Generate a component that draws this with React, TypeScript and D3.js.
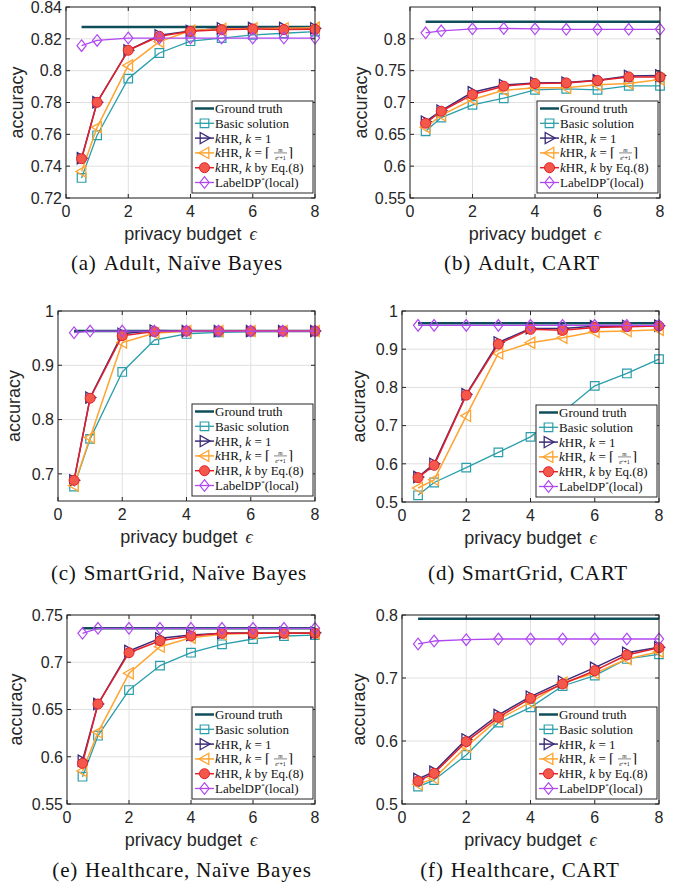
import React from 'react';
import * as d3 from 'd3';

// privacy budget values (x axis)
const epsilons = [0.5, 1, 2, 3, 4, 5, 6, 7, 8];
const xTicks = [0, 2, 4, 6, 8];

// (a) Adult, Naive Bayes
const adultNBTruth = 0.8274;
const adultNBBasic = [0.7326, 0.7594, 0.795, 0.8111, 0.8185, 0.8205, 0.8225, 0.8235, 0.8245];
const adultNBk1 = [0.745, 0.7802, 0.8128, 0.8222, 0.825, 0.8266, 0.8268, 0.8268, 0.8266];
const adultNBkCeil = [0.7367, 0.7644, 0.8033, 0.8182, 0.8252, 0.8262, 0.8265, 0.8266, 0.827];
const adultNBkEq8 = [0.7447, 0.7801, 0.8128, 0.8216, 0.8247, 0.8257, 0.8262, 0.8258, 0.826];
const adultNBLabelDP = [0.8157, 0.819, 0.8205, 0.8205, 0.8205, 0.8205, 0.8205, 0.8205, 0.8205];
const adultNBTicks = [0.72, 0.74, 0.76, 0.78, 0.8, 0.82, 0.84];

// (b) Adult, CART
const adultCartTruth = 0.8267;
const adultCartBasic = [0.6548, 0.6763, 0.6962, 0.7067, 0.7198, 0.7214, 0.7198, 0.7261, 0.7261];
const adultCartk1 = [0.67, 0.6873, 0.7161, 0.7274, 0.7308, 0.7313, 0.735, 0.7418, 0.7424];
const adultCartkCeil = [0.661, 0.68, 0.7046, 0.7193, 0.723, 0.723, 0.7277, 0.7298, 0.736];
const adultCartkEq8 = [0.6674, 0.6863, 0.7125, 0.7256, 0.7298, 0.7308, 0.7345, 0.7402, 0.7402];
const adultCartLabelDP = [0.8094, 0.8126, 0.8157, 0.8163, 0.8157, 0.815, 0.815, 0.815, 0.815];
const adultCartTicks = [0.55, 0.6, 0.65, 0.7, 0.75, 0.8];

// (c) SmartGrid, Naive Bayes
const gridNBTruth = 0.9632;
const gridNBBasic = [0.6767, 0.7644, 0.8877, 0.9466, 0.9577, 0.9607, 0.962, 0.9626, 0.9626];
const gridNBk1 = [0.688, 0.8405, 0.958, 0.964, 0.963, 0.963, 0.963, 0.963, 0.963];
const gridNBkCeil = [0.6785, 0.767, 0.942, 0.959, 0.963, 0.963, 0.963, 0.963, 0.963];
const gridNBkEq8 = [0.688, 0.8393, 0.9546, 0.962, 0.963, 0.963, 0.963, 0.963, 0.963];
const gridNBLabelDP = [0.96, 0.963, 0.963, 0.963, 0.963, 0.963, 0.963, 0.963, 0.963];
const gridNBTicks = [0.7, 0.8, 0.9, 1];

// (d) SmartGrid, CART
const gridCartTruth = 0.9677;
const gridCartBasic = [0.5175, 0.551, 0.59, 0.63, 0.6705, 0.735, 0.804, 0.8365, 0.874];
const gridCartk1 = [0.5655, 0.6, 0.782, 0.9178, 0.9545, 0.9545, 0.96, 0.961, 0.9615];
const gridCartkCeil = [0.5367, 0.558, 0.7255, 0.889, 0.917, 0.93, 0.9458, 0.9475, 0.951];
const gridCartkEq8 = [0.5638, 0.596, 0.7797, 0.9135, 0.952, 0.9493, 0.957, 0.959, 0.9607];
const gridCartLabelDP = [0.9624, 0.9624, 0.9624, 0.9624, 0.9624, 0.9624, 0.9624, 0.9624, 0.9624];
const gridCartTicks = [0.5, 0.6, 0.7, 0.8, 0.9, 1];

// (e) Healthcare, Naive Bayes
const healthNBTruth = 0.7359;
const healthNBBasic = [0.5789, 0.6223, 0.6706, 0.6964, 0.7101, 0.719, 0.7246, 0.7278, 0.7288];
const healthNBk1 = [0.5958, 0.6558, 0.7119, 0.7253, 0.7288, 0.7306, 0.7313, 0.7313, 0.7313];
const healthNBkCeil = [0.585, 0.6258, 0.6883, 0.7165, 0.726, 0.7295, 0.7306, 0.7306, 0.7306];
const healthNBkEq8 = [0.593, 0.6558, 0.7101, 0.7228, 0.7278, 0.7306, 0.7306, 0.7306, 0.7306];
const healthNBLabelDP = [0.7306, 0.7359, 0.7359, 0.7359, 0.7359, 0.7359, 0.7359, 0.7359, 0.7359];
const healthNBTicks = [0.55, 0.6, 0.65, 0.7, 0.75];

// (f) Healthcare, CART
const healthCartTruth = 0.7942;
const healthCartBasic = [0.5275, 0.538, 0.5778, 0.6291, 0.6534, 0.6873, 0.7037, 0.7302, 0.7376];
const healthCartk1 = [0.5397, 0.5513, 0.6026, 0.6413, 0.6704, 0.6942, 0.7164, 0.7402, 0.7487];
const healthCartkCeil = [0.5312, 0.5407, 0.591, 0.6344, 0.6614, 0.6926, 0.7074, 0.7302, 0.7418];
const healthCartkEq8 = [0.5365, 0.5487, 0.5989, 0.6376, 0.6677, 0.6905, 0.7116, 0.7365, 0.7481];
const healthCartLabelDP = [0.754, 0.7587, 0.7608, 0.7619, 0.7619, 0.7619, 0.7619, 0.7619, 0.7619];
const healthCartTicks = [0.5, 0.6, 0.7, 0.8];

const C = {
  truth: '#0e4d5a',
  basic: '#2a9eab',
  k1: '#3b2b78',
  kCeil: '#ffa431',
  kEq8: '#e3202b',
  kEq8Fill: '#f4584a',
  labelDP: '#b048f0',
  axis: '#262626',
  grid: '#e0e0e0',
};

const SANS = "'Liberation Sans', Arial, Helvetica, sans-serif";
const SERIF = "'Liberation Serif', 'DejaVu Serif', serif";

const panels = [
  { id: 'a', tag: '(a)', title: 'Adult, Na\u00efve Bayes', left: 66, right: 315, top: 7, bottom: 198, yDomain: [0.72, 0.84], yTicks: adultNBTicks, yLabelX: 23, capX: 177, capY: 270,
    truth: adultNBTruth, basic: adultNBBasic, k1: adultNBk1, kCeil: adultNBkCeil, kEq8: adultNBkEq8, labelDP: adultNBLabelDP },
  { id: 'b', tag: '(b)', title: 'Adult, CART', left: 410, right: 660, top: 7, bottom: 198, yDomain: [0.55, 0.85], yTicks: adultCartTicks, yLabelX: 367, capX: 522, capY: 270,
    truth: adultCartTruth, basic: adultCartBasic, k1: adultCartk1, kCeil: adultCartkCeil, kEq8: adultCartkEq8, labelDP: adultCartLabelDP },
  { id: 'c', tag: '(c)', title: 'SmartGrid, Na\u00efve Bayes', left: 58, right: 315, top: 311, bottom: 501, yDomain: [0.65, 1], yTicks: gridNBTicks, yLabelX: 20, capX: 179, capY: 580,
    truth: gridNBTruth, basic: gridNBBasic, k1: gridNBk1, kCeil: gridNBkCeil, kEq8: gridNBkEq8, labelDP: gridNBLabelDP },
  { id: 'd', tag: '(d)', title: 'SmartGrid, CART', left: 402, right: 659, top: 311, bottom: 502, yDomain: [0.5, 1], yTicks: gridCartTicks, yLabelX: 365, capX: 528, capY: 580,
    truth: gridCartTruth, basic: gridCartBasic, k1: gridCartk1, kCeil: gridCartkCeil, kEq8: gridCartkEq8, labelDP: gridCartLabelDP },
  { id: 'e', tag: '(e)', title: 'Healthcare, Na\u00efve Bayes', left: 67, right: 315, top: 615, bottom: 804, yDomain: [0.55, 0.75], yTicks: healthNBTicks, yLabelX: 22, capX: 182, capY: 877,
    truth: healthNBTruth, basic: healthNBBasic, k1: healthNBk1, kCeil: healthNBkCeil, kEq8: healthNBkEq8, labelDP: healthNBLabelDP },
  { id: 'f', tag: '(f)', title: 'Healthcare, CART', left: 402, right: 659, top: 615, bottom: 804, yDomain: [0.5, 0.8], yTicks: healthCartTicks, yLabelX: 365, capX: 520, capY: 877,
    truth: healthCartTruth, basic: healthCartBasic, k1: healthCartk1, kCeil: healthCartkCeil, kEq8: healthCartkEq8, labelDP: healthCartLabelDP },
];

// marker shapes, centred on 0,0
const squarePath = 'M-4.3,-4.3h8.6v8.6h-8.6Z';
const triRightPath = 'M-4.3,-5.6L5.6,0L-4.3,5.6Z';
const triLeftPath = 'M4.3,-5.6L-5.6,0L4.3,5.6Z';
const diamondPath = 'M0,-5.8L4.6,0L0,5.8L-4.6,0Z';

function Marker({ kind, x, y }: { kind: string; x: number; y: number }) {
  const t = `translate(${x},${y})`;
  if (kind === 'basic') return <path d={squarePath} transform={t} fill="none" stroke={C.basic} strokeWidth={1.2} />;
  if (kind === 'k1') return <path d={triRightPath} transform={t} fill="none" stroke={C.k1} strokeWidth={1.3} />;
  if (kind === 'kCeil') return <path d={triLeftPath} transform={t} fill="none" stroke={C.kCeil} strokeWidth={1.3} />;
  if (kind === 'kEq8') return <circle cx={x} cy={y} r={5} fill={C.kEq8Fill} stroke={C.kEq8} strokeWidth={1} />;
  if (kind === 'labelDP') return <path d={diamondPath} transform={t} fill="none" stroke={C.labelDP} strokeWidth={1.2} />;
  return null;
}

const seriesStyle: Record<string, { color: string; width: number }> = {
  basic: { color: C.basic, width: 1.3 },
  k1: { color: C.k1, width: 1.5 },
  kCeil: { color: C.kCeil, width: 1.5 },
  kEq8: { color: C.kEq8, width: 1.5 },
  labelDP: { color: C.labelDP, width: 1.3 },
};
const seriesOrder = ['basic', 'k1', 'kCeil', 'kEq8', 'labelDP'];

function Legend({ right, bottom }: { right: number; bottom: number }) {
  const w = 121, h = 92;
  const lx = right - w, ly = bottom - h;
  const rowY = (i: number) => ly + 7.5 + i * 14.8;
  const tx = lx + 23;
  const kinds = ['truth', 'basic', 'k1', 'kCeil', 'kEq8', 'labelDP'];
  const fb = rowY(3); // centre of the fraction row
  const fx = tx + 59; // left of the fraction
  return (
    <g>
      <rect x={lx} y={ly} width={w} height={h} fill="#fff" stroke={C.axis} strokeWidth={1} />
      {kinds.map((k, i) => {
        const cy = rowY(i);
        const color = k === 'truth' ? C.truth : seriesStyle[k].color;
        const sw = k === 'truth' ? 2.5 : seriesStyle[k].width;
        return (
          <g key={k}>
            <line x1={lx + 3} x2={lx + 22} y1={cy} y2={cy} stroke={color} strokeWidth={sw} />
            <Marker kind={k} x={lx + 12.5} y={cy} />
          </g>
        );
      })}
      <g fontFamily={SERIF} fontSize={13} fill="#111">
        <text x={tx} y={rowY(0) + 4.5}>Ground truth</text>
        <text x={tx} y={rowY(1) + 4.5}>Basic solution</text>
        <text x={tx} y={rowY(2) + 4.5}>
          <tspan fontStyle="italic">k</tspan>HR, <tspan fontStyle="italic">k</tspan> = 1
        </text>
        <text x={tx} y={fb + 4.5}>
          <tspan fontStyle="italic">k</tspan>HR, <tspan fontStyle="italic">k</tspan> = {'\u2308'}
        </text>
        <text x={fx + 6.5} y={fb - 1.2} fontSize={6} fontStyle="italic" textAnchor="middle">m</text>
        <line x1={fx} x2={fx + 13} y1={fb} y2={fb} stroke="#111" strokeWidth={0.5} />
        <text x={fx + 6.5} y={fb + 7} fontSize={6} textAnchor="middle">
          <tspan fontStyle="italic">e</tspan><tspan fontSize={4} fontStyle="italic" dy={-2}>{'\u03f5'}</tspan><tspan dy={2}>+1</tspan>
        </text>
        <text x={fx + 14} y={fb + 4.5}>{'\u2309'}</text>
        <text x={tx} y={rowY(4) + 4.5}>
          <tspan fontStyle="italic">k</tspan>HR, <tspan fontStyle="italic">k</tspan> by Eq.(8)
        </text>
        <text x={tx} y={rowY(5) + 4.5}>
          LabelDP<tspan fontSize={7} dy={-5}>*</tspan><tspan dy={5}>(local)</tspan>
        </text>
      </g>
    </g>
  );
}

function Panel({ p }: { p: (typeof panels)[number] }) {
  const x = d3.scaleLinear().domain([0, 8]).range([p.left, p.right]);
  const y = d3.scaleLinear().domain(p.yDomain).range([p.bottom, p.top]);
  const line = d3.line<number>().x((_, i) => x(epsilons[i])).y((d) => y(d));
  const fmt = (v: number) => String(+v.toFixed(2));
  const tl = 4;
  const cx = (p.left + p.right) / 2;
  const cy = (p.top + p.bottom) / 2;
  const data: Record<string, number[]> = { basic: p.basic, k1: p.k1, kCeil: p.kCeil, kEq8: p.kEq8, labelDP: p.labelDP };

  return (
    <g>
      {/* grid */}
      {xTicks.map((t) => (
        <line key={'gx' + t} x1={x(t)} x2={x(t)} y1={p.top} y2={p.bottom} stroke={C.grid} strokeWidth={1} />
      ))}
      {p.yTicks.map((t) => (
        <line key={'gy' + t} x1={p.left} x2={p.right} y1={y(t)} y2={y(t)} stroke={C.grid} strokeWidth={1} />
      ))}
      {/* series */}
      <line x1={x(epsilons[0])} x2={x(epsilons[epsilons.length - 1])} y1={y(p.truth)} y2={y(p.truth)} stroke={C.truth} strokeWidth={2.5} />
      {seriesOrder.map((k) => (
        <g key={k}>
          <path d={line(data[k]) || ''} fill="none" stroke={seriesStyle[k].color} strokeWidth={seriesStyle[k].width} strokeLinejoin="round" />
          {data[k].map((v, i) => (
            <Marker key={i} kind={k} x={x(epsilons[i])} y={y(v)} />
          ))}
        </g>
      ))}
      {/* box and ticks */}
      <rect x={p.left} y={p.top} width={p.right - p.left} height={p.bottom - p.top} fill="none" stroke={C.axis} strokeWidth={1} />
      {xTicks.map((t) => (
        <g key={'tx' + t}>
          <line x1={x(t)} x2={x(t)} y1={p.bottom} y2={p.bottom - tl} stroke={C.axis} />
          <line x1={x(t)} x2={x(t)} y1={p.top} y2={p.top + tl} stroke={C.axis} />
          <text x={x(t)} y={p.bottom + 19} textAnchor="middle" fontFamily={SANS} fontSize={16} fill={C.axis}>{t}</text>
        </g>
      ))}
      {p.yTicks.map((t) => (
        <g key={'ty' + t}>
          <line x1={p.left} x2={p.left + tl} y1={y(t)} y2={y(t)} stroke={C.axis} />
          <line x1={p.right} x2={p.right - tl} y1={y(t)} y2={y(t)} stroke={C.axis} />
          <text x={p.left - 4} y={y(t) + 5.8} textAnchor="end" fontFamily={SANS} fontSize={16} fill={C.axis}>{fmt(t)}</text>
        </g>
      ))}
      <Legend right={p.right - 2} bottom={p.bottom - 5} />
      {/* axis labels */}
      <text x={cx} y={p.bottom + 42} textAnchor="middle" fontFamily={SANS} fontSize={18} fill={C.axis}>
        privacy budget<tspan dx={8} fontFamily={SERIF} fontStyle="italic" fontSize={18}>{'\u03f5'}</tspan>
      </text>
      <text transform={`translate(${p.yLabelX},${cy}) rotate(-90)`} textAnchor="middle" fontFamily={SANS} fontSize={18} fill={C.axis}>
        accuracy
      </text>
      {/* caption */}
      <text x={p.capX} y={p.capY} textAnchor="middle" fontFamily={SERIF} fontSize={21} letterSpacing={0.8} fill="#111">
        {p.tag}<tspan dx={7}>{p.title}</tspan>
      </text>
    </g>
  );
}

export default function App() {
  return (
    <svg width={688} height={890} style={{ position: 'absolute', left: 0, top: 0, background: '#fff' }}>
      <rect width={688} height={890} fill="#fff" />
      {panels.map((p) => (
        <Panel key={p.id} p={p} />
      ))}
    </svg>
  );
}
